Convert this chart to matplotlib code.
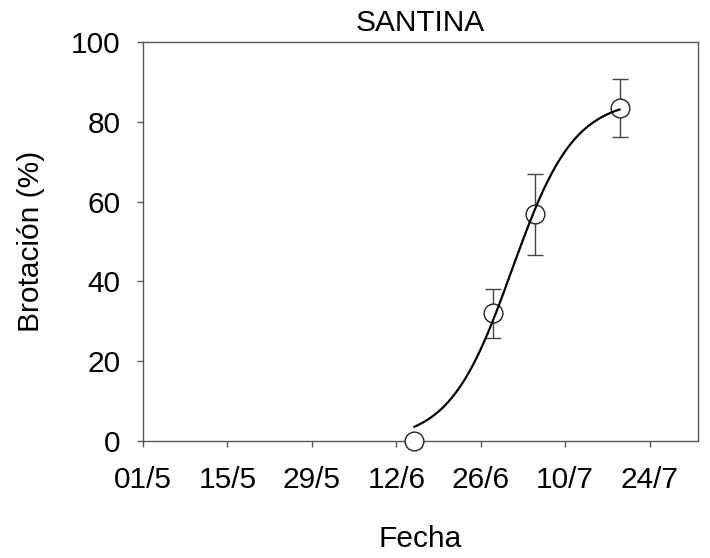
import datetime as dt

import matplotlib
matplotlib.use("Agg")
import matplotlib.dates as mdates
import matplotlib.pyplot as plt
import numpy as np

plt.rcParams['font.family'] = ['Liberation Sans', 'DejaVu Sans']

# brotación medida (media y error) por fecha
fechas = ["2013-06-15", "2013-06-28", "2013-07-05", "2013-07-19"]
brotacion = [0.0, 32.0, 56.8, 83.5]
err_sup = [0.0, 6.0, 10.0, 7.2]
err_inf = [0.0, 6.2, 10.2, 7.4]

x_ticks = ["2013-05-01", "2013-05-15", "2013-05-29", "2013-06-12",
           "2013-06-26", "2013-07-10", "2013-07-24"]
x_lim = ["2013-05-01", "2013-08-01"]


def to_num(d):
    return mdates.date2num(dt.datetime.strptime(d, "%Y-%m-%d"))


x = np.array([to_num(d) for d in fechas])
y = np.array(brotacion)


# ajuste logistico y = a / (1 + exp(-(x - x0) / b)) por busqueda en rejilla
def ajuste_logistico(x, y):
    best = None
    for x0 in np.arange(x.min(), x.max(), 0.05):
        for b in np.arange(1.0, 15.0, 0.05):
            g = 1.0 / (1.0 + np.exp(-(x - x0) / b))
            a = (g @ y) / (g @ g)
            res = np.sum((y - a * g) ** 2)
            if best is None or res < best[0]:
                best = (res, a, x0, b)
    return best[1:]


a, x0, b = ajuste_logistico(x, y)
xs = np.linspace(x.min(), x.max(), 300)
ys = a / (1.0 + np.exp(-(xs - x0) / b))

fig = plt.figure(figsize=(7.1, 5.58), dpi=100)
ax = fig.add_axes([0.2014, 0.2097, 0.7816, 0.715])

gris = '#444444'
ax.errorbar(x, y, yerr=[err_inf, err_sup], fmt='none', ecolor=gris,
            elinewidth=1.0, capsize=6, capthick=1.0, zorder=2)
ax.plot(x, y, 'o', ms=13.5, mfc='white', mec='#222222', mew=1.0,
        zorder=3, clip_on=False)
ax.plot(xs, ys, color='black', lw=1.6, zorder=4)

ax.set_xlim(to_num(x_lim[0]), to_num(x_lim[1]))
ax.set_ylim(0, 100)
ax.set_xticks([to_num(d) for d in x_ticks])
ax.xaxis.set_major_formatter(mdates.DateFormatter('%d/%-m'))
ax.set_yticks(range(0, 101, 20))

for s in ax.spines.values():
    s.set_color('#555555')
    s.set_linewidth(1.0)
ax.tick_params(direction='out', length=4, width=1.0, color='#555555',
               labelsize=21.5)
ax.tick_params(axis='x', pad=14)
ax.tick_params(axis='y', pad=12)

ax.set_title('SANTINA', fontsize=21.5, pad=8)
ax.set_xlabel('Fecha', fontsize=21.5, labelpad=22)
ax.set_ylabel('Brotación (%)', fontsize=21.5, labelpad=19)

fig.savefig('out.png', dpi=100)
